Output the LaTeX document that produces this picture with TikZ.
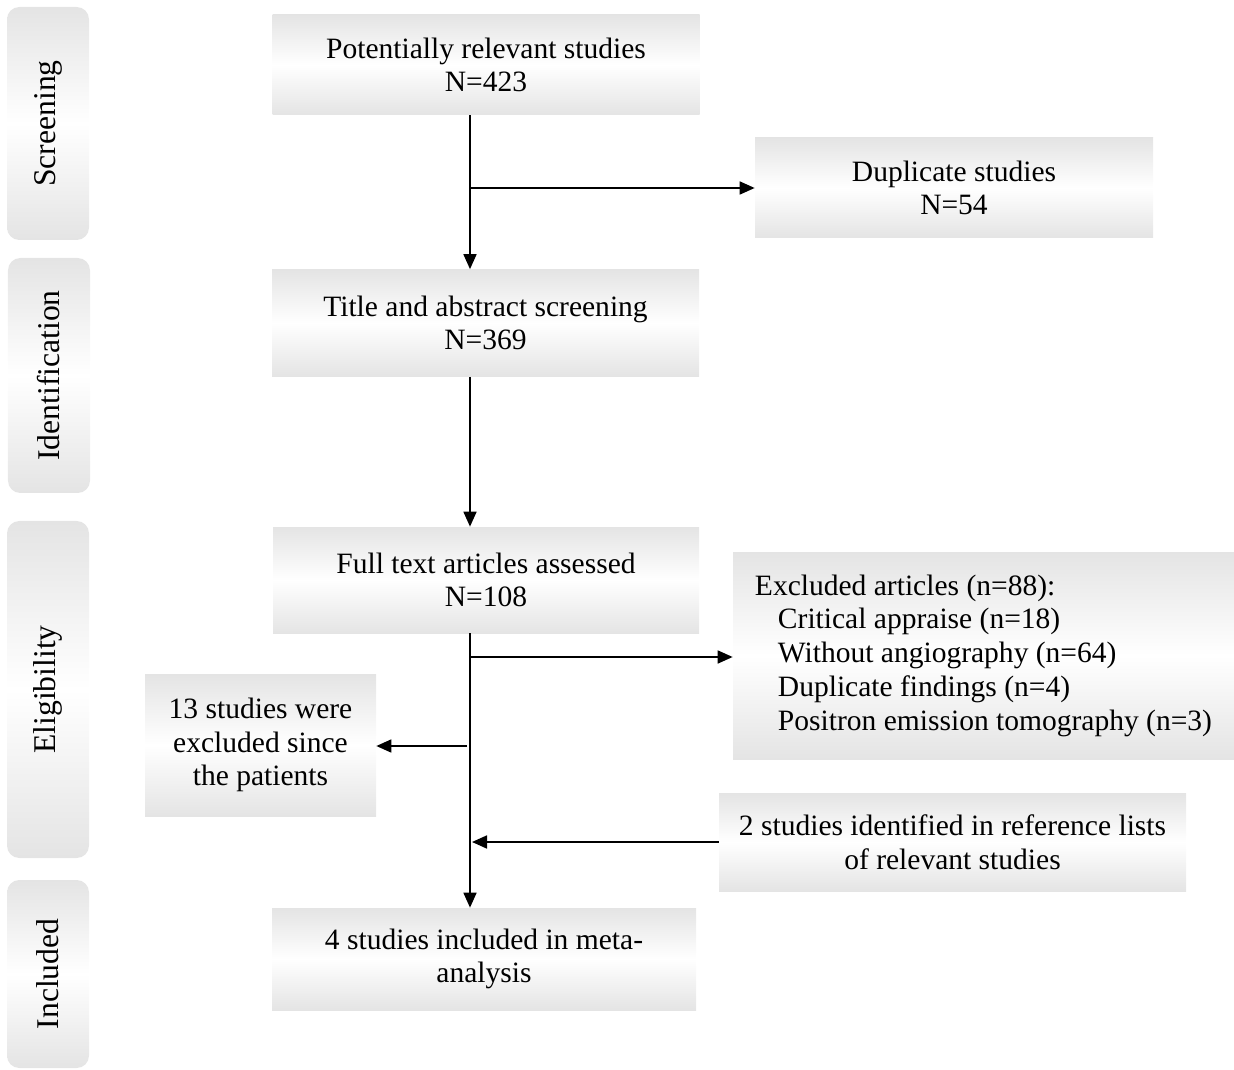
\documentclass[tikz,border=0pt]{standalone}
\usepackage{fontspec}
\setmainfont{Liberation Serif}
\usepackage{tikz}
\usetikzlibrary{arrows.meta,positioning}
\definecolor{shadeedge}{HTML}{E4E4E4}

\begin{document}
\begin{tikzpicture}[
  font=\fontsize{16.8}{19.2}\selectfont,
  box/.style={top color=shadeedge,bottom color=shadeedge,middle color=white,
              draw=none,inner sep=3pt,align=center},
  sidebox/.style={top color=shadeedge,bottom color=shadeedge,middle color=white,
              draw=none,rounded corners=7pt,rotate=90,inner sep=2pt,
              minimum height=16.4mm,font=\fontsize{18}{21}\selectfont},
  flow/.style={-{Triangle[length=3mm,width=2.6mm]},line width=1pt}
]
\useasboundingbox (0,0) rectangle (24.68,-21.4);

%------ phase labels ------------------------------------------------------------
\node[sidebox,minimum width=46.6mm] (scr) at (0.96,-2.47)  {Screening};
\node[sidebox,minimum width=47.0mm] (idf) at (0.98,-7.51)  {Identification};
\node[sidebox,minimum width=67.4mm] (elg) at (0.96,-13.79) {Eligibility};
\node[sidebox,minimum width=37.6mm] (inc) at (0.96,-19.48) {Included};

%------ main column -------------------------------------------------------------
\node[box,minimum width=85.4mm,minimum height=20mm]   (pot)  at (9.72,-1.30)  {Potentially relevant studies\\N=423};
\node[box,minimum width=85.4mm,minimum height=21.4mm] (tas)  at (9.71,-6.46)  {Title and abstract screening\\N=369};
\node[box,minimum width=85.2mm,minimum height=21.2mm] (full) at (9.72,-11.60) {Full text articles assessed\\N=108};
\node[box,minimum width=84.8mm,minimum height=20.4mm] (meta) at (9.68,-19.18) {4 studies included in meta-\\analysis};

%------ side boxes --------------------------------------------------------------
\node[box,minimum width=79.6mm,minimum height=20mm]   (dup)  at (19.08,-3.76) {Duplicate studies\\N=54};
\node[box,minimum width=100.2mm,minimum height=41.4mm,align=left] (excl) at (19.67,-13.11)
      {Excluded articles (n=88):\\
       \hspace*{4.6mm}Critical appraise (n=18)\\
       \hspace*{4.6mm}Without angiography (n=64)\\
       \hspace*{4.6mm}Duplicate findings (n=4)\\
       \hspace*{4.6mm}Positron emission tomography (n=3)};
\node[box,minimum width=46.2mm,minimum height=28.4mm] (pat)  at (5.21,-14.90) {13 studies were\\excluded since\\the patients};
\node[box,minimum width=93.4mm,minimum height=19.6mm] (ref)  at (19.05,-16.84) {2 studies identified in reference lists\\of relevant studies};

%------ spine coordinates -------------------------------------------------------
\coordinate (sp)  at (9.40,0);
\coordinate (jd)  at (9.40,-3.76);
\coordinate (je)  at (9.40,-13.14);
\coordinate (jp)  at (9.34,-14.92);
\coordinate (jr)  at (9.44,-16.84);

%------ connectors --------------------------------------------------------------
\draw[flow] (pot.south -| sp) -- (tas.north -| sp);
\draw[flow] (jd) -- (dup.west);
\draw[flow] (tas.south -| sp) -- (full.north -| sp);
\draw[flow] (full.south -| sp) -- (meta.north -| sp);
\draw[flow] (je) -- (excl.west |- je);
\draw[flow] (jp) -- (pat.east |- jp);
\draw[flow] (ref.west) -- (jr);
\end{tikzpicture}
\end{document}
